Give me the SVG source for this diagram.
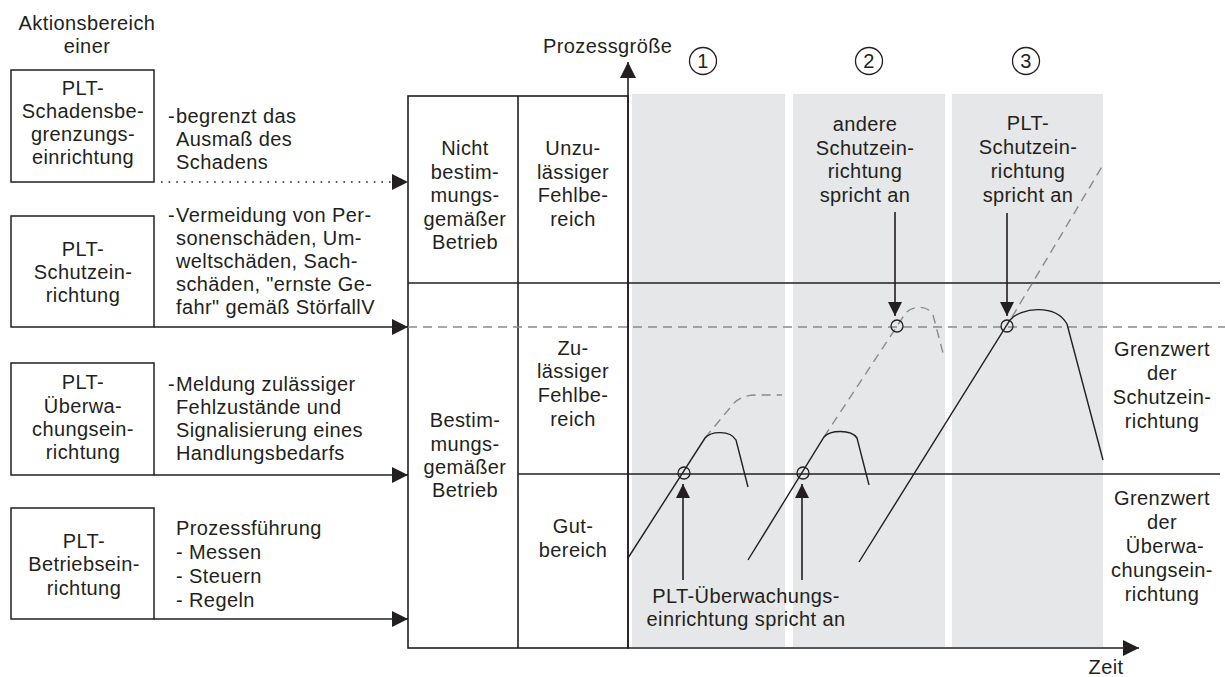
<svg xmlns="http://www.w3.org/2000/svg" width="1225" height="677" viewBox="0 0 1225 677">
<defs>
<style>
.t{font-family:"Liberation Sans",Arial,Helvetica,sans-serif;font-size:20px;fill:#231f20;letter-spacing:0.4px}
.m{text-anchor:middle}
.box{fill:#fff;stroke:#231f20;stroke-width:1.5}
.ln{stroke:#231f20;stroke-width:1.6;fill:none}
.cv{stroke:#231f20;stroke-width:1.4;fill:none}
.dash{stroke:#8a8a8a;stroke-width:1.4;fill:none;stroke-dasharray:9 6}
.band{fill:#e6e7e8}
.ring{fill:none;stroke:#231f20;stroke-width:1.3}
.dot{stroke:#231f20;stroke-width:1.6;fill:none;stroke-dasharray:1.6 6}
</style>
<marker id="ah" markerUnits="userSpaceOnUse" markerWidth="16" markerHeight="16" refX="16" refY="8" orient="auto"><path d="M0,0L16,8L0,16z" fill="#231f20"/></marker>
<marker id="as" markerUnits="userSpaceOnUse" markerWidth="14" markerHeight="14" refX="14" refY="7" orient="auto"><path d="M0,0L14,7L0,14z" fill="#231f20"/></marker>
</defs>
<rect width="1225" height="677" fill="#fff"/>

<g id="title">
<text class="t m" x="87" y="30">Aktionsbereich</text>
<text class="t m" x="87" y="53">einer</text>
</g>

<g id="bands">
<rect class="band" x="632" y="94" width="153" height="553"/>
<rect class="band" x="793" y="94" width="152" height="553"/>
<rect class="band" x="952" y="94" width="151" height="553"/>
</g>

<g id="box-schadensbegrenzung">
<rect class="box" x="11" y="70" width="143" height="112"/>
<text class="t m" x="83" y="95">PLT-</text>
<text class="t m" x="83" y="118">Schadensbe-</text>
<text class="t m" x="83" y="141">grenzungs-</text>
<text class="t m" x="83" y="164">einrichtung</text>
<text class="t" x="168" y="123">-</text>
<text class="t" x="176" y="123">begrenzt das</text>
<text class="t" x="176" y="146">Ausmaß des</text>
<text class="t" x="176" y="169">Schadens</text>
</g>

<g id="box-schutz">
<rect class="box" x="11" y="216" width="143" height="111"/>
<text class="t m" x="83" y="256">PLT-</text>
<text class="t m" x="83" y="279">Schutzein-</text>
<text class="t m" x="83" y="302">richtung</text>
<text class="t" x="168" y="222">-</text>
<text class="t" x="176" y="222">Vermeidung von Per-</text>
<text class="t" x="176" y="245">sonenschäden, Um-</text>
<text class="t" x="176" y="268">weltschäden, Sach-</text>
<text class="t" x="176" y="291">schäden, "ernste Ge-</text>
<text class="t" x="176" y="314">fahr" gemäß StörfallV</text>
</g>

<g id="box-ueberwachung">
<rect class="box" x="11" y="363" width="143" height="112"/>
<text class="t m" x="83" y="389">PLT-</text>
<text class="t m" x="83" y="413">Überwa-</text>
<text class="t m" x="83" y="436">chungsein-</text>
<text class="t m" x="83" y="459">richtung</text>
<text class="t" x="168" y="391">-</text>
<text class="t" x="176" y="391">Meldung zulässiger</text>
<text class="t" x="176" y="414">Fehlzustände und</text>
<text class="t" x="176" y="437">Signalisierung eines</text>
<text class="t" x="176" y="460">Handlungsbedarfs</text>
</g>

<g id="box-betrieb">
<rect class="box" x="11" y="508" width="143" height="111"/>
<text class="t m" x="84" y="548">PLT-</text>
<text class="t m" x="84" y="571">Betriebsein-</text>
<text class="t m" x="84" y="595">richtung</text>
<text class="t" x="176" y="535">Prozessführung</text>
<text class="t" x="176" y="559">- Messen</text>
<text class="t" x="176" y="583">- Steuern</text>
<text class="t" x="176" y="607">- Regeln</text>
</g>

<g id="table">
<rect x="408" y="96" width="220" height="552" fill="none" stroke="#231f20" stroke-width="1.6"/>
<line class="ln" x1="518" y1="96" x2="518" y2="648"/>
<text class="t m" x="465" y="155">Nicht</text>
<text class="t m" x="465" y="178.5">bestim-</text>
<text class="t m" x="465" y="202">mungs-</text>
<text class="t m" x="465" y="225.5">gemäßer</text>
<text class="t m" x="465" y="249">Betrieb</text>
<text class="t m" x="573" y="155">Unzu-</text>
<text class="t m" x="573" y="178.5">lässiger</text>
<text class="t m" x="573" y="202">Fehlbe-</text>
<text class="t m" x="573" y="225.5">reich</text>
<text class="t m" x="465" y="427">Bestim-</text>
<text class="t m" x="465" y="451">mungs-</text>
<text class="t m" x="465" y="474">gemäßer</text>
<text class="t m" x="465" y="497">Betrieb</text>
<text class="t m" x="573" y="355">Zu-</text>
<text class="t m" x="573" y="378">lässiger</text>
<text class="t m" x="573" y="402">Fehlbe-</text>
<text class="t m" x="573" y="426">reich</text>
<text class="t m" x="573" y="533">Gut-</text>
<text class="t m" x="573" y="557">bereich</text>
</g>

<g id="limits">
<line class="ln" x1="408" y1="283" x2="1220" y2="283"/>
<line class="ln" x1="518" y1="474" x2="1220" y2="474"/>
<line class="dash" x1="408" y1="327" x2="1225" y2="327"/>
<text class="t m" x="1162" y="356">Grenzwert</text>
<text class="t m" x="1162" y="380">der</text>
<text class="t m" x="1162" y="404">Schutzein-</text>
<text class="t m" x="1162" y="428">richtung</text>
<text class="t m" x="1162" y="505">Grenzwert</text>
<text class="t m" x="1162" y="529">der</text>
<text class="t m" x="1165" y="553">Überwa-</text>
<text class="t m" x="1162" y="577">chungsein-</text>
<text class="t m" x="1162" y="601">richtung</text>
</g>

<g id="axes">
<line class="ln" x1="628" y1="648" x2="628" y2="62" marker-end="url(#ah)"/>
<line class="ln" x1="627" y1="648" x2="1139" y2="648" marker-end="url(#ah)"/>
<text class="t" x="543" y="53">Prozessgröße</text>
<text class="t m" x="1106" y="674">Zeit</text>
</g>

<g id="case-numbers">
<circle class="ring" cx="703" cy="61" r="13.5"/>
<text class="t m" x="703" y="68">1</text>
<circle class="ring" cx="869" cy="61" r="13.5"/>
<text class="t m" x="869" y="68">2</text>
<circle class="ring" cx="1026" cy="61" r="13.5"/>
<text class="t m" x="1026" y="68">3</text>
</g>

<g id="curves">
<path class="dash" d="M705,438 L734,403 Q742,395 756,395 L782,395"/>
<path class="dash" d="M824,437 L905,314 C910,306 928,304 933,315 L943,353"/>
<path class="dash" d="M1012,317 L1103,165"/>
<path class="cv" d="M628,558 L705,438 C711,431 730,430 736,440 L748,487"/>
<path class="cv" d="M748,560 L824,437 C830,430 851,429 857,438 L869,485"/>
<path class="cv" d="M859,562 L1010,320 C1020,308 1055,303 1067,324 L1103,460"/>
<circle class="ring" cx="684" cy="473" r="6"/>
<circle class="ring" cx="803" cy="473" r="6"/>
<circle class="ring" cx="897" cy="326" r="6"/>
<circle class="ring" cx="1007" cy="326" r="6"/>
</g>

<g id="chart-labels">
<text class="t m" x="865" y="131">andere</text>
<text class="t m" x="865" y="155">Schutzein-</text>
<text class="t m" x="865" y="178">richtung</text>
<text class="t m" x="865" y="202">spricht an</text>
<text class="t m" x="1028" y="130">PLT-</text>
<text class="t m" x="1028" y="154">Schutzein-</text>
<text class="t m" x="1028" y="178">richtung</text>
<text class="t m" x="1028" y="202">spricht an</text>
<text class="t m" x="746" y="603">PLT-Überwachungs-</text>
<text class="t m" x="746" y="626">einrichtung spricht an</text>
</g>

<g id="connectors">
<line class="dot" x1="161" y1="182" x2="408" y2="182" marker-end="url(#ah)"/>
<line class="ln" x1="154" y1="327" x2="408" y2="327" marker-end="url(#ah)"/>
<line class="ln" x1="154" y1="475" x2="408" y2="475" marker-end="url(#ah)"/>
<line class="ln" x1="154" y1="619" x2="408" y2="619" marker-end="url(#ah)"/>
<line class="ln" x1="683" y1="580" x2="683" y2="484" marker-end="url(#as)"/>
<line class="ln" x1="802" y1="580" x2="802" y2="484" marker-end="url(#as)"/>
<line class="ln" x1="895" y1="212" x2="895" y2="316" marker-end="url(#as)"/>
<line class="ln" x1="1007" y1="213" x2="1007" y2="316" marker-end="url(#as)"/>
</g>
</svg>
